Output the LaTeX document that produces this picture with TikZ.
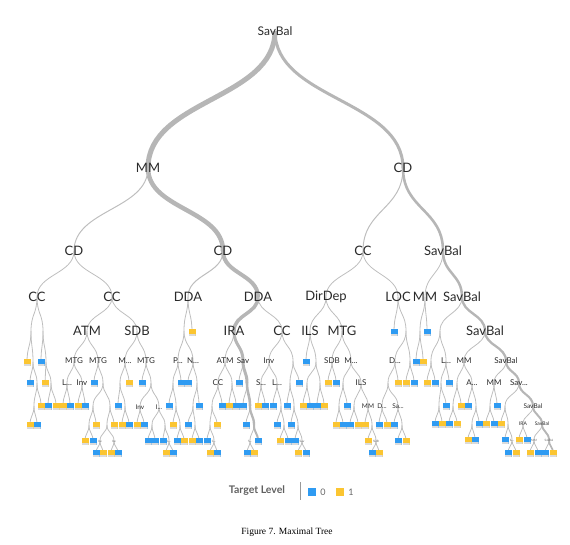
\documentclass[tikz,border=0pt]{standalone}
\usepackage{fontspec}
\setmainfont{Liberation Serif}
\newfontfamily\labfont{Lato}
\usetikzlibrary{calc}
\definecolor{cb}{HTML}{2F9BF2}
\definecolor{cy}{HTML}{FBC531}
\definecolor{eg}{HTML}{BEBEBE}
\definecolor{tg}{HTML}{B6B6B6}
\definecolor{labc}{HTML}{2A2A2A}
\pgfdeclarelayer{bg}
\pgfsetlayers{bg,main}
\tikzset{
 edg/.style={draw=eg, line width=0.8pt, to path={let \p1=(\tikztostart), \p2=(\tikztotarget), \p3=($(\tikztostart)!0.5!(\tikztotarget)$) in .. controls (\x1,\y3) and (\x2,\y3) .. (\tikztotarget)}},
 lf/.style={minimum size=7pt, inner sep=0pt, path picture={\fill[black!14] (path picture bounding box.south west) rectangle ([yshift=1.6pt]path picture bounding box.south east);}},
 labA/.style={inner sep=0pt, text=labc, font=\labfont\fontsize{13}{13}\selectfont},
 labB/.style={inner sep=0pt, text=labc, font=\labfont\fontsize{8}{8}\selectfont},
 labC/.style={inner sep=0pt, text=labc, font=\labfont\fontsize{6.5}{6.5}\selectfont},
 labD/.style={inner sep=0pt, text=labc, font=\labfont\fontsize{5}{5}\selectfont},
 labE/.style={inner sep=0pt, text=labc!70, font=\labfont\fontsize{3}{3}\selectfont},
}
\newcommand\myB[3]{\node[lf,fill=cb] (#1) at (#2,#3) {};}
\newcommand\myY[3]{\node[lf,fill=cy] (#1) at (#2,#3) {};}
\newcommand\myJ[3]{\coordinate (#1) at (#2,#3);}
\newcommand\myE[3][0.8]{\draw[edg,line width=#1pt] (#2.center) to (#3.center);}
\newcommand\myT[3]{\draw[edg,draw=tg,line width=#1pt] (#2.center) to (#3.center);}
\begin{document}
\begin{tikzpicture}[x=1pt,y=-1pt]
\useasboundingbox (0,0) rectangle (570,545);
% ---------- labels ----------
\node[labA,font=\labfont\fontsize{12}{12}\selectfont] (r) at (275,31) {SavBal};
\node[labA] (n1) at (148,168) {MM};
\node[labA] (n2) at (403,168) {CD};
\node[labA] (n3) at (74,251) {CD};
\node[labA] (n4) at (223,251) {CD};
\node[labA] (n5) at (363,251) {CC};
\node[labA] (n6) at (443,251) {SavBal};
\node[labA] (n7) at (37,297) {CC};
\node[labA] (n8) at (112,297) {CC};
\node[labA] (n9) at (188,297) {DDA};
\node[labA] (n10) at (258,297) {DDA};
\node[labA] (n11) at (326,297) {DirDep};
\node[labA] (n12) at (398,297) {LOC};
\node[labA] (n13) at (425,297) {MM};
\node[labA] (n14) at (462,297) {SavBal};
\node[labA] (n15) at (87,331) {ATM};
\node[labA] (n16) at (137,331) {SDB};
\node[labA] (n17) at (234,331) {IRA};
\node[labA] (n18) at (282,331) {CC};
\node[labA] (n19) at (310,331) {ILS};
\node[labA] (n20) at (342,331) {MTG};
\node[labA] (n21) at (485,331) {SavBal};
\node[labB] (m1) at (74,361) {MTG};
\node[labB] (m2) at (98,361) {MTG};
\node[labB] (m3) at (125,361) {M...};
\node[labB] (m4) at (146,361) {MTG};
\node[labB] (m5) at (178,361) {P...};
\node[labB] (m6) at (193,361) {N...};
\node[labB] (m7) at (225,361) {ATM};
\node[labB] (m8) at (243,361) {Sav};
\node[labB] (m9) at (269,361) {Inv};
\node[labB] (m10) at (332,361) {SDB};
\node[labB] (m11) at (351,361) {M...};
\node[labB] (m12) at (395,361) {D...};
\node[labB] (m13) at (446,361) {L...};
\node[labB] (m14) at (464,361) {MM};
\node[labB] (m15) at (506,361) {SavBal};
\node[labB] (k1) at (67,383) {L...};
\node[labB] (k2) at (82,383) {Inv};
\node[labB] (k3) at (218,383) {CC};
\node[labB] (k4) at (261,383) {S...};
\node[labB] (k5) at (277,383) {L...};
\node[labB] (k6) at (361,383) {ILS};
\node[labB] (k7) at (472,383) {A...};
\node[labB] (k8) at (494,383) {MM};
\node[labB] (k9) at (519,383) {Sav...};
\node[labC] (h1) at (140,407) {Inv};
\node[labC] (h2) at (159,407) {I...};
\node[labC] (h3) at (368,406) {MM};
\node[labC] (h4) at (382,406) {D...};
\node[labC] (h5) at (398,406) {Sa...};
\node[labC] (h6) at (533,406) {SavBal};
\node[labD] (g1) at (523,424) {IRA};
\node[labD] (g2) at (542,424) {SavBal};
\node[labE] (t1) at (100,441) {Inv};
\node[labE] (t2) at (114,441) {Inv};
\node[labE] (t3) at (169,441) {L...};
\node[labE] (t4) at (214,441) {C...};
\node[labE] (t5) at (250,441) {S...};
\node[labE] (t6) at (302,441) {Sav};
\node[labE] (t7) at (376,441) {SDB};
\node[labE] (t8) at (512,440) {IL...};
\node[labE] (t9) at (534,440) {MM};
\node[labE] (t10) at (549,440) {SavBal};
% ---------- junctions ----------
\myJ{jA}{31}{331}\myJ{jB}{43}{331}\myJ{jA2}{33}{362}\myJ{jA3}{37}{383}\myJ{jA4}{34}{406}
\myJ{jB2}{46}{362}\myJ{jB3}{51}{383}
\myJ{j1}{103}{383}\myJ{j2}{93}{406}\myJ{j3}{110}{406}\myJ{j4}{89}{425}\myJ{j5}{107}{425}
\myJ{jm}{120}{383}\myJ{jm2}{125}{406}
\myJ{jt}{151}{383}\myJ{jI}{152}{425}\myJ{jI2}{165}{425}
\myJ{ju}{184}{331}\myJ{jp}{173}{383}\myJ{jp2}{176}{406}\myJ{jp3}{180}{425}
\myJ{jn}{197}{383}\myJ{jn2}{193}{406}\myJ{jn3}{195}{425}
\myJ{ja}{232}{383}\myJ{jc}{212}{406}\myJ{jc2}{210}{425}
\myJ{js}{247}{383}\myJ{js2}{250}{406}\myJ{js3}{254}{425}
\myJ{jl}{281}{406}\myJ{jl2}{284}{425}\myJ{jcc}{293}{361}\myJ{jcc2}{290}{383}\myJ{jcc3}{294}{406}\myJ{jcc4}{298}{425}
\myJ{ji}{316}{362}\myJ{ji2}{307}{383}\myJ{ji3}{320}{383}
\myJ{jm3}{343}{383}\myJ{jm4}{339}{406}\myJ{ji4}{354}{406}\myJ{jmm}{372}{425}
\myJ{jL}{406}{331}\myJ{jL2}{410}{361}\myJ{jd}{388}{383}\myJ{jse}{402}{425}
\myJ{ju2}{420}{331}\myJ{ja2}{440}{331}\myJ{jv}{431}{361}\myJ{ju1}{441}{383}\myJ{ju2b}{439}{406}
\myJ{ju3}{457}{383}\myJ{ju4}{453}{406}\myJ{ju5}{476}{406}\myJ{ju6}{472}{424}
\myJ{ju7}{490}{406}\myJ{ju8}{505}{406}\myJ{ju9}{508}{424}
% ---------- leaves ----------
\myY{l1}{27}{362}\myB{l2}{30}{383}\myY{l3}{41}{406}\myY{l4}{30}{425}\myB{l5}{37}{425}
\myB{l6}{41}{362}\myY{l7}{45}{383}\myB{l8}{48}{406}\myY{l9}{56}{406}
\myY{l10}{63}{406}\myB{l11}{70}{406}\myY{l12}{78}{406}\myB{l13}{85}{406}
\myB{l14}{94}{383}\myY{l15}{96}{425}\myY{l16}{85}{441}\myB{l17}{93}{441}\myY{l18}{114}{425}
\myB{l19}{96}{453}\myY{l20}{103}{453}\myY{l21}{111}{453}\myB{l22}{118}{453}
\myY{l23}{129}{383}\myB{l24}{118}{406}\myY{l25}{122}{425}\myB{l26}{129}{425}
\myB{l27}{142}{383}\myY{l28}{137}{425}\myB{l29}{144}{425}
\myB{l30}{148}{441}\myB{l31}{155}{441}\myB{l32}{163}{441}\myY{l33}{166}{453}\myB{l34}{173}{453}
\myY{l35}{192}{332}\myB{l36}{181}{383}\myB{l37}{169}{406}\myY{l38}{173}{425}\myB{l39}{177}{441}\myY{l40}{184}{441}
\myB{l41}{188}{383}\myB{l42}{199}{406}\myB{l43}{188}{425}\myY{l44}{192}{441}\myB{l45}{199}{441}
\myY{l46}{229}{406}\myB{l47}{236}{406}\myB{l48}{222}{406}\myY{l49}{217}{425}\myB{l50}{207}{441}
\myY{l51}{210}{453}\myB{l52}{217}{453}
\myB{l53}{239}{383}\myB{l54}{243}{406}\myB{l55}{246}{425}\myB{l56}{258}{441}\myB{l57}{247}{453}\myY{l58}{254}{453}
\myY{l59}{258}{406}\myB{l60}{265}{406}\myB{l61}{273}{406}\myB{l62}{277}{425}\myY{l63}{280}{441}\myB{l64}{288}{441}
\myB{l65}{299}{383}\myB{l66}{287}{406}\myB{l67}{291}{425}\myB{l68}{295}{441}\myY{l69}{298}{453}\myB{l70}{306}{453}
\myB{l71}{306}{362}\myY{l72}{303}{406}\myB{l73}{310}{406}\myB{l74}{317}{406}\myY{l75}{324}{406}
\myY{l76}{328}{383}\myB{l77}{336}{383}\myB{l78}{347}{406}\myY{l79}{336}{425}\myB{l80}{343}{425}
\myB{l81}{350}{425}\myY{l82}{358}{425}\myY{l83}{365}{425}\myY{l84}{368}{441}\myB{l85}{372}{453}\myY{l86}{379}{453}
\myB{l87}{394}{332}\myY{l88}{398}{383}\myB{l89}{379}{425}\myY{l90}{387}{425}\myB{l91}{394}{425}
\myB{l92}{398}{441}\myY{l93}{406}{441}\myY{l94}{406}{383}\myB{l95}{414}{383}
\myB{l96}{427}{332}\myB{l97}{416}{362}\myY{l98}{423}{362}
\myY{l99}{427}{383}\myB{l100}{435}{383}\myB{l101}{449}{383}\myB{l102}{446}{406}\myB{l103}{435}{424}\myY{l104}{442}{424}
\myY{l105}{461}{406}\myB{l106}{449}{424}\myY{l107}{457}{424}\myB{l108}{468}{406}\myB{l109}{479}{424}
\myY{l110}{468}{440}\myB{l111}{475}{440}
\myB{l112}{497}{406}\myY{l113}{486}{424}\myB{l114}{494}{424}\myY{l115}{501}{424}
\myB{l116}{505}{440}\myB{l117}{508}{453}\myY{l118}{516}{453}
\myY{l119}{519}{440}\myB{l120}{527}{440}\myY{l121}{530}{453}\myB{l122}{538}{453}\myB{l123}{545}{453}\myY{l124}{553}{453}
% ---------- legend and caption ----------
\node[inner sep=0pt, text=black!62, font=\labfont\bfseries\fontsize{10.5}{10.5}\selectfont] (tl) at (257,491) {Target Level};
\draw[black!40, line width=0.9pt] (300,482) -- (300,500);
\node[minimum size=8pt, inner sep=0pt, fill=cb] (lg0) at (312,492) {};
\node[inner sep=0pt, text=black!60, font=\labfont\fontsize{9}{9}\selectfont] (lt0) at (323,492) {0};
\node[minimum size=8pt, inner sep=0pt, fill=cy] (lg1) at (340,492) {};
\node[inner sep=0pt, text=black!60, font=\labfont\fontsize{9}{9}\selectfont] (lt1) at (351,492) {1};
\node[inner sep=0pt, font=\fontsize{9.5}{9.5}\selectfont] (cap) at (287,532) {Figure 7. Maximal Tree};
% ---------- edges ----------
\begin{pgfonlayer}{bg}
\myT{5}{r}{n1}\myT{3}{r}{n2}
\myT{4.5}{n1}{n4}\myE[1]{n1}{n3}
\myE[1]{n2}{n5}\myT{2.6}{n2}{n6}
\myE{n3}{n7}\myE{n3}{n8}
\myE[1]{n4}{n9}\myT{4}{n4}{n10}
\myE{n5}{n11}\myE{n5}{n12}
\myE{n6}{n13}\myT{2.5}{n6}{n14}
% CC1
\myE{n7}{jA}\myE{n7}{jB}\myE{jA}{l1}\myE{jA}{jA2}\myE{jA2}{l2}\myE{jA2}{jA3}
\myE{jA3}{jA4}\myE{jA3}{l3}\myE{jA4}{l4}\myE{jA4}{l5}
\myE{jB}{l6}\myE{jB}{jB2}\myE{jB2}{l7}\myE{jB2}{jB3}\myE{jB3}{l8}\myE{jB3}{l9}
% CC2
\myE{n8}{n15}\myE{n8}{n16}
\myE{n15}{m1}\myE{n15}{m2}\myE{m1}{k1}\myE{m1}{k2}
\myE{k1}{l10}\myE{k1}{l11}\myE{k2}{l12}\myE{k2}{l13}
\myE{m2}{l14}\myE{m2}{j1}\myE{j1}{j2}\myE{j1}{j3}\myE{j2}{j4}\myE{j2}{l15}
\myE{j4}{l16}\myE{j4}{l17}\myE{j3}{j5}\myE{j3}{l18}\myE{j5}{t1}\myE{j5}{t2}
\myE{t1}{l19}\myE{t1}{l20}\myE{t2}{l21}\myE{t2}{l22}
\myE{n16}{m3}\myE{n16}{m4}\myE{m3}{jm}\myE{m3}{l23}\myE{jm}{l24}\myE{jm}{jm2}
\myE{jm2}{l25}\myE{jm2}{l26}
\myE{m4}{l27}\myE{m4}{jt}\myE{jt}{h1}\myE{jt}{h2}\myE{h1}{l28}\myE{h1}{l29}
\myE{h2}{jI}\myE{h2}{jI2}\myE{jI}{l30}\myE{jI}{l31}\myE{jI2}{l32}\myE{jI2}{t3}
\myE{t3}{l33}\myE{t3}{l34}
% DDA1
\myE{n9}{ju}\myE{n9}{l35}\myE{ju}{m5}\myE{ju}{m6}
\myE{m5}{jp}\myE{m5}{l36}\myE{jp}{l37}\myE{jp}{jp2}\myE{jp2}{l38}\myE{jp2}{jp3}
\myE{jp3}{l39}\myE{jp3}{l40}
\myE{m6}{l41}\myE{m6}{jn}\myE{jn}{jn2}\myE{jn}{l42}\myE{jn2}{l43}\myE{jn2}{jn3}
\myE{jn3}{l44}\myE{jn3}{l45}
% DDA2
\myT{3.5}{n10}{n17}\myE{n10}{n18}
\myE{n17}{m7}\myT{3}{n17}{m8}
\myE{m7}{k3}\myE{m7}{ja}\myE{ja}{l46}\myE{ja}{l47}
\myE{k3}{jc}\myE{k3}{l48}\myE{jc}{jc2}\myE{jc}{l49}\myE{jc2}{l50}\myE{jc2}{t4}
\myE{t4}{l51}\myE{t4}{l52}
\myE{m8}{l53}\myT{3}{m8}{js}\myE{js}{l54}\myT{2.6}{js}{js2}
\myE{js2}{l55}\myT{2.3}{js2}{js3}\myE{js3}{t5}\myT{2}{js3}{l56}
\myE{t5}{l57}\myE{t5}{l58}
\myE{n18}{m9}\myE{n18}{jcc}\myE{m9}{k4}\myE{m9}{k5}
\myE{k4}{l59}\myE{k4}{l60}\myE{k5}{l61}\myE{k5}{jl}\myE{jl}{l62}\myE{jl}{jl2}
\myE{jl2}{l63}\myE{jl2}{l64}
\myE{jcc}{jcc2}\myE{jcc}{l65}\myE{jcc2}{l66}\myE{jcc2}{jcc3}\myE{jcc3}{l67}\myE{jcc3}{jcc4}
\myE{jcc4}{l68}\myE{jcc4}{t6}\myE{t6}{l69}\myE{t6}{l70}
% DirDep
\myE{n11}{n19}\myE{n11}{n20}
\myE{n19}{l71}\myE{n19}{ji}\myE{ji}{ji2}\myE{ji}{ji3}
\myE{ji2}{l72}\myE{ji2}{l73}\myE{ji3}{l74}\myE{ji3}{l75}
\myE{n20}{m10}\myE{n20}{m11}\myE{m10}{l76}\myE{m10}{l77}
\myE{m11}{jm3}\myE{m11}{k6}\myE{jm3}{jm4}\myE{jm3}{l78}\myE{jm4}{l79}\myE{jm4}{l80}
\myE{k6}{ji4}\myE{k6}{h3}\myE{ji4}{l81}\myE{ji4}{l82}
\myE{h3}{l83}\myE{h3}{jmm}\myE{jmm}{l84}\myE{jmm}{t7}\myE{t7}{l85}\myE{t7}{l86}
% LOC
\myE{n12}{l87}\myE{n12}{jL}\myE{jL}{m12}\myE{jL}{jL2}
\myE{m12}{jd}\myE{m12}{l88}\myE{jd}{h4}\myE{jd}{h5}
\myE{h4}{l89}\myE{h4}{l90}\myE{h5}{l91}\myE{h5}{jse}\myE{jse}{l92}\myE{jse}{l93}
\myE{jL2}{l94}\myE{jL2}{l95}
% MM2
\myE{n13}{ju2}\myE{n13}{l96}\myE{ju2}{l97}\myE{ju2}{l98}
% SavBal right
\myE{n14}{ja2}\myT{2.4}{n14}{n21}
\myE{ja2}{jv}\myE{ja2}{m13}\myE{jv}{l99}\myE{jv}{l100}
\myE{m13}{ju1}\myE{m13}{l101}\myE{ju1}{ju2b}\myE{ju1}{l102}\myE{ju2b}{l103}\myE{ju2b}{l104}
\myE{n21}{m14}\myT{2.3}{n21}{m15}
\myE{m14}{ju3}\myE{m14}{k7}\myE{ju3}{ju4}\myE{ju3}{l105}\myE{ju4}{l106}\myE{ju4}{l107}
\myE{k7}{l108}\myE{k7}{ju5}\myE{ju5}{ju6}\myE{ju5}{l109}\myE{ju6}{l110}\myE{ju6}{l111}
\myE{m15}{k8}\myT{2.2}{m15}{k9}
\myE{k8}{ju7}\myE{k8}{l112}\myE{ju7}{l113}\myE{ju7}{l114}
\myE{k9}{ju8}\myT{2.1}{k9}{h6}
\myE{ju8}{l115}\myE{ju8}{ju9}\myE{ju9}{l116}\myE{ju9}{t8}\myE{t8}{l117}\myE{t8}{l118}
\myE{h6}{g1}\myT{2}{h6}{g2}
\myE{g1}{l119}\myE{g1}{l120}
\myE{g2}{t9}\myT{1.9}{g2}{t10}
\myE{t9}{l121}\myE{t9}{l122}
\myE{t10}{l123}\myT{1.7}{t10}{l124}
\end{pgfonlayer}
\end{tikzpicture}
\end{document}
